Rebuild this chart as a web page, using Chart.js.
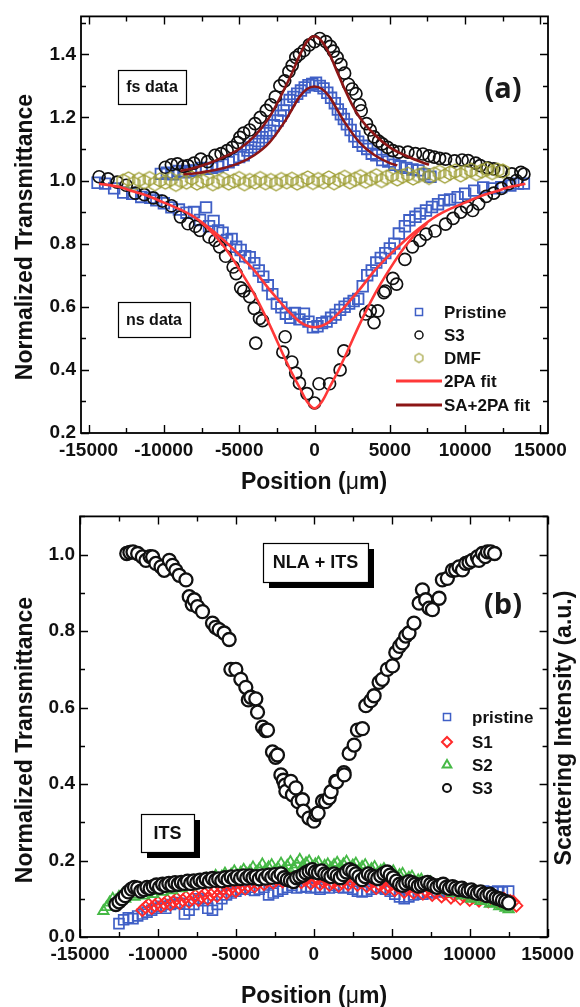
<!DOCTYPE html>
<html>
<head>
<meta charset="utf-8">
<title>Z-scan transmittance and scattering</title>
<script src="https://cdn.jsdelivr.net/npm/chart.js@4.4.1/dist/chart.umd.min.js"></script>
<style>
  html, body { margin: 0; padding: 0; background: #fff; }
  canvas { display: block; }
</style>
</head>
<body>
<canvas id="chartA" width="580" height="500"></canvas>
<canvas id="chartB" width="580" height="507"></canvas>
<script>
// ---------- panel (a): open-aperture Z-scan, ns and fs data ----------
const xTicksA = [-15000, -10000, -5000, 0, 5000, 10000, 15000];
const yTicksA = [0.2, 0.4, 0.6, 0.8, 1.0, 1.2, 1.4];

// ns data (valley)
const pristineNs = [[-14400,0.993],[-13900,0.99],[-13300,0.975],[-12700,0.962],[-12100,0.958],[-11500,0.948],[-10900,0.945],[-10500,0.937],[-10000,0.928],[-9500,0.915],[-9000,0.908],[-8500,0.898],[-8000,0.9],[-7600,0.875],[-7200,0.915],[-7000,0.855],[-6700,0.872],[-6400,0.842],[-6100,0.835],[-5800,0.812],[-5500,0.815],[-5200,0.79],[-4900,0.78],[-4600,0.76],[-4300,0.757],[-4000,0.738],[-3700,0.715],[-3400,0.695],[-3100,0.668],[-2800,0.64],[-2500,0.61],[-2200,0.598],[-1900,0.578],[-1600,0.565],[-1300,0.58],[-1000,0.56],[-700,0.578],[-400,0.553],[-100,0.535],[200,0.538],[500,0.548],[800,0.553],[1100,0.565],[1400,0.575],[1700,0.59],[2000,0.6],[2300,0.61],[2600,0.618],[2900,0.625],[3200,0.665],[3500,0.7],[3800,0.715],[4100,0.74],[4400,0.755],[4700,0.77],[5000,0.785],[5300,0.8],[5600,0.832],[6000,0.855],[6300,0.874],[6700,0.885],[7000,0.895],[7400,0.905],[7800,0.916],[8200,0.925],[8600,0.937],[9000,0.94],[9500,0.947],[10000,0.958],[10600,0.968],[11200,0.978],[11800,0.975],[12400,0.979],[13000,0.984],[13500,0.99],[13900,0.99]];
const s3Ns = [[-14300,1.012],[-13700,1.005],[-13100,0.995],[-12500,0.985],[-11900,0.96],[-11300,0.955],[-10700,0.945],[-10100,0.935],[-9500,0.92],[-8900,0.885],[-8400,0.863],[-7900,0.855],[-7600,0.842],[-7000,0.821],[-6600,0.81],[-6300,0.79],[-5900,0.76],[-5400,0.726],[-5200,0.705],[-4900,0.66],[-4700,0.65],[-4300,0.632],[-4000,0.595],[-3900,0.485],[-3650,0.563],[-3450,0.556],[-2100,0.456],[-1950,0.505],[-1500,0.425],[-1250,0.39],[-1000,0.358],[-500,0.325],[0,0.295],[300,0.356],[1000,0.356],[1700,0.4],[1950,0.46],[3400,0.577],[3700,0.587],[3950,0.55],[4200,0.587],[4600,0.645],[4700,0.65],[5200,0.69],[5450,0.672],[6000,0.75],[6500,0.79],[7000,0.81],[7400,0.83],[8000,0.84],[8700,0.862],[9200,0.88],[9700,0.9],[10100,0.916],[10500,0.905],[10900,0.926],[11400,0.95],[11900,0.96],[12400,0.975],[12900,0.99],[13400,1.0],[13900,1.02]];

// fs data (peak)
const pristineFs = [[-10200,1.021],[-9800,1.025],[-9400,1.02],[-9000,1.03],[-8600,1.026],[-8200,1.03],[-7900,1.032],[-7500,1.04],[-7200,1.037],[-6800,1.04],[-6400,1.044],[-6100,1.05],[-5700,1.058],[-5400,1.066],[-5000,1.074],[-4700,1.08],[-4450,1.095],[-4200,1.105],[-3950,1.116],[-3700,1.125],[-3450,1.137],[-3200,1.15],[-2950,1.158],[-2700,1.175],[-2450,1.19],[-2250,1.205],[-2050,1.222],[-1850,1.24],[-1650,1.255],[-1400,1.265],[-1150,1.275],[-900,1.285],[-650,1.295],[-400,1.302],[-150,1.306],[100,1.31],[350,1.3],[600,1.292],[850,1.278],[1100,1.262],[1350,1.245],[1550,1.225],[1750,1.21],[1950,1.195],[2150,1.178],[2400,1.16],[2650,1.14],[2900,1.123],[3200,1.11],[3500,1.1],[3800,1.085],[4100,1.08],[4500,1.065],[4900,1.06],[5300,1.05],[5700,1.045],[6100,1.04],[6500,1.035],[6900,1.032],[7300,1.02],[7700,1.012]];
const s3Fs = [[-9900,1.042],[-9500,1.05],[-9100,1.053],[-8700,1.045],[-8400,1.047],[-8000,1.055],[-7550,1.068],[-7100,1.06],[-6600,1.08],[-6200,1.085],[-5800,1.095],[-5450,1.105],[-5100,1.12],[-4950,1.137],[-4700,1.15],[-4300,1.16],[-3950,1.18],[-3600,1.2],[-3200,1.222],[-2900,1.24],[-2600,1.265],[-2300,1.3],[-1980,1.316],[-1700,1.345],[-1480,1.365],[-1240,1.39],[-1000,1.4],[-700,1.412],[-350,1.43],[0,1.44],[350,1.45],[750,1.44],[1050,1.425],[1250,1.41],[1500,1.39],[1750,1.368],[2000,1.34],[2250,1.305],[2500,1.29],[2750,1.275],[3000,1.24],[3100,1.221],[3450,1.18],[3700,1.16],[3950,1.138],[4250,1.125],[4500,1.116],[4850,1.105],[5200,1.095],[5600,1.09],[6200,1.09],[6700,1.085],[7200,1.084],[7600,1.078],[7950,1.074],[8300,1.07],[8700,1.068],[9300,1.062],[9800,1.065],[10200,1.063],[10700,1.055],[11000,1.047],[11500,1.04],[11900,1.037],[12400,1.03],[13100,1.021],[13700,1.026]];

// solvent reference
const dmf = [[-12700,0.998],[-12350,1.005],[-12000,0.99],[-11650,1.003],[-11300,0.996],[-10950,1.006],[-10600,0.99],[-10250,1.002],[-9900,0.995],[-9550,1.004],[-9200,0.988],[-8850,1.0],[-8500,0.995],[-8150,1.008],[-7800,0.992],[-7450,0.998],[-7100,1.005],[-6750,0.99],[-6400,0.997],[-6050,1.004],[-5700,0.992],[-5350,0.999],[-5000,1.006],[-4650,0.99],[-4300,1.0],[-3950,0.995],[-3600,1.006],[-3250,0.993],[-2900,1.0],[-2550,0.99],[-2200,1.003],[-1850,0.996],[-1500,1.004],[-1150,0.992],[-800,1.0],[-450,1.008],[-100,0.994],[250,1.003],[600,0.996],[950,1.008],[1300,0.993],[1650,1.002],[2000,1.01],[2350,0.996],[2700,1.004],[3050,1.012],[3400,0.998],[3750,1.006],[4100,1.015],[4450,1.0],[4800,1.01],[5150,1.018],[5500,1.005],[5850,1.014],[6200,1.02],[6550,1.008],[6900,1.016],[7250,1.022],[7600,1.01],[7950,1.02],[8300,1.026],[8650,1.014],[9000,1.024],[9350,1.03],[9700,1.018],[10050,1.028],[10400,1.033],[10750,1.022],[11100,1.03],[11450,1.036],[11800,1.025],[12150,1.033],[12500,1.03]];

// fitted curves
const fit2paPristine = [[-14300,0.99],[-13000,0.98],[-12000,0.965],[-11000,0.95],[-10000,0.93],[-9000,0.91],[-8000,0.885],[-7000,0.85],[-6000,0.81],[-5000,0.765],[-4000,0.715],[-3000,0.655],[-2000,0.6],[-1500,0.575],[-1000,0.553],[-500,0.54],[0,0.535],[500,0.54],[1000,0.553],[1500,0.575],[2000,0.6],[3000,0.655],[4000,0.715],[5000,0.765],[6000,0.81],[7000,0.85],[8000,0.885],[9000,0.91],[10000,0.93],[11000,0.95],[12000,0.965],[13000,0.98],[14000,0.99]];
const fit2paS3 = [[-7600,0.87],[-7000,0.845],[-6000,0.79],[-5000,0.72],[-4000,0.64],[-3000,0.545],[-2000,0.44],[-1500,0.39],[-1000,0.345],[-500,0.3],[0,0.278],[500,0.3],[1000,0.345],[1500,0.39],[2000,0.44],[3000,0.545],[4000,0.64],[5000,0.72],[6000,0.79],[7000,0.845],[7500,0.865]];
const fitSaPristine = [[-8700,1.02],[-8000,1.022],[-7000,1.03],[-6000,1.04],[-5000,1.055],[-4000,1.08],[-3000,1.12],[-2000,1.185],[-1500,1.225],[-1000,1.265],[-500,1.29],[0,1.298],[500,1.29],[1000,1.265],[1500,1.225],[2000,1.185],[3000,1.12],[4000,1.08],[5000,1.055],[5500,1.048]];
const fitSaS3 = [[-8900,1.03],[-8000,1.04],[-7000,1.055],[-6000,1.075],[-5000,1.1],[-4000,1.14],[-3000,1.2],[-2000,1.29],[-1500,1.34],[-1000,1.395],[-500,1.44],[0,1.457],[500,1.44],[1000,1.4],[1500,1.345],[2000,1.29],[2500,1.24],[3000,1.2],[4000,1.145],[5000,1.105],[6000,1.08],[7000,1.06],[7600,1.05]];

// ---------- panel (b): nonlinear absorption + induced thermal scattering ----------
const xTicksB = [-15000, -10000, -5000, 0, 5000, 10000, 15000];
const yTicksB = [0.0, 0.2, 0.4, 0.6, 0.8, 1.0];

const s3Nla = [[-12000,1.003],[-11800,1.006],[-11600,1.007],[-11300,1.003],[-11000,0.994],[-10770,0.985],[-10500,0.995],[-10340,0.994],[-10130,0.977],[-9800,0.968],[-9600,0.959],[-9270,0.985],[-9060,0.972],[-8850,0.959],[-8630,0.946],[-8200,0.934],[-7990,0.89],[-7800,0.87],[-7670,0.882],[-7460,0.864],[-7140,0.851],[-6500,0.821],[-6300,0.81],[-6070,0.804],[-5750,0.795],[-5430,0.778],[-5320,0.7],[-5000,0.7],[-4680,0.674],[-4360,0.653],[-4200,0.62],[-4040,0.627],[-3720,0.623],[-3610,0.588],[-3290,0.549],[-3100,0.54],[-2970,0.541],[-2650,0.484],[-2450,0.47],[-2330,0.476],[-2110,0.424],[-1950,0.41],[-1840,0.397],[-1790,0.381],[-1470,0.407],[-1370,0.372],[-1150,0.39],[-1010,0.354],[-730,0.359],[-660,0.329],[-310,0.311],[0,0.303],[150,0.32],[280,0.324],[560,0.355],[760,0.354],[990,0.364],[1110,0.38],[1410,0.407],[1460,0.406],[1930,0.43],[1950,0.424],[2270,0.48],[2590,0.502],[2800,0.541],[3120,0.545],[3340,0.605],[3660,0.618],[3870,0.631],[4190,0.666],[4400,0.674],[4720,0.7],[5050,0.709],[5260,0.744],[5500,0.76],[5690,0.769],[5900,0.787],[6110,0.795],[6430,0.821],[6760,0.873],[6970,0.908],[7180,0.882],[7400,0.86],[7610,0.856],[8040,0.886],[8250,0.934],[8570,0.938],[8890,0.959],[9100,0.96],[9320,0.968],[9540,0.96],[9750,0.977],[9960,0.98],[10170,0.985],[10500,0.994],[10600,0.985],[10820,1.003],[11000,0.995],[11140,1.007],[11350,1.007],[11600,1.003]];

const s3Its = [[-12700,0.085],[-12500,0.092],[-12300,0.1],[-12100,0.108],[-11900,0.118],[-11700,0.125],[-11500,0.13],[-11300,0.128],[-11100,0.12],[-10900,0.124],[-10700,0.13],[-10500,0.127],[-10300,0.132],[-10100,0.136],[-9900,0.13],[-9700,0.138],[-9500,0.135],[-9300,0.14],[-9100,0.136],[-8900,0.142],[-8700,0.138],[-8500,0.143],[-8300,0.14],[-8100,0.146],[-7900,0.14],[-7700,0.147],[-7500,0.143],[-7300,0.149],[-7100,0.145],[-6900,0.151],[-6700,0.146],[-6500,0.153],[-6300,0.148],[-6100,0.152],[-5900,0.147],[-5700,0.155],[-5500,0.15],[-5300,0.157],[-5100,0.152],[-4900,0.158],[-4700,0.153],[-4500,0.16],[-4300,0.154],[-4100,0.16],[-3900,0.155],[-3700,0.158],[-3500,0.152],[-3300,0.16],[-3100,0.154],[-2900,0.162],[-2700,0.156],[-2500,0.163],[-2300,0.158],[-2100,0.165],[-1900,0.155],[-1700,0.15],[-1500,0.148],[-1300,0.145],[-1100,0.155],[-900,0.158],[-700,0.162],[-500,0.168],[-300,0.172],[-100,0.176],[100,0.17],[300,0.168],[500,0.173],[700,0.165],[900,0.162],[1100,0.158],[1300,0.165],[1500,0.16],[1700,0.155],[1900,0.163],[2100,0.17],[2300,0.176],[2500,0.172],[2700,0.165],[2900,0.158],[3100,0.15],[3300,0.158],[3500,0.165],[3700,0.16],[3900,0.157],[4100,0.153],[4300,0.16],[4500,0.166],[4700,0.17],[4900,0.162],[5100,0.155],[5300,0.146],[5500,0.138],[5700,0.135],[5900,0.14],[6100,0.145],[6300,0.142],[6500,0.138],[6700,0.133],[6900,0.136],[7100,0.14],[7300,0.143],[7500,0.138],[7700,0.134],[7900,0.13],[8100,0.135],[8300,0.138],[8500,0.13],[8700,0.127],[8900,0.132],[9100,0.128],[9300,0.124],[9500,0.128],[9700,0.122],[9900,0.12],[10100,0.123],[10300,0.117],[10500,0.114],[10700,0.118],[10900,0.112],[11100,0.108],[11300,0.112],[11500,0.106],[11700,0.102],[11900,0.1],[12100,0.096],[12300,0.093],[12500,0.089]];

const s2Its = [[-13500,0.068],[-13300,0.078],[-13100,0.09],[-12900,0.1],[-12700,0.095],[-12500,0.105],[-12300,0.11],[-12100,0.1],[-11900,0.112],[-11700,0.12],[-11500,0.105],[-11300,0.11],[-11100,0.118],[-10900,0.108],[-10700,0.115],[-10500,0.122],[-10300,0.112],[-10100,0.12],[-9900,0.127],[-9700,0.118],[-9500,0.125],[-9300,0.132],[-9100,0.122],[-8900,0.13],[-8700,0.136],[-8500,0.127],[-8300,0.134],[-8100,0.142],[-7900,0.132],[-7700,0.14],[-7500,0.147],[-7300,0.138],[-7100,0.145],[-6900,0.152],[-6700,0.143],[-6500,0.15],[-6300,0.16],[-6100,0.15],[-5900,0.158],[-5700,0.166],[-5500,0.155],[-5300,0.163],[-5100,0.172],[-4900,0.16],[-4700,0.168],[-4500,0.176],[-4300,0.165],[-4100,0.172],[-3900,0.182],[-3700,0.17],[-3500,0.178],[-3300,0.19],[-3100,0.175],[-2900,0.182],[-2700,0.188],[-2500,0.173],[-2300,0.18],[-2100,0.192],[-1900,0.178],[-1700,0.186],[-1500,0.196],[-1300,0.18],[-1100,0.19],[-900,0.202],[-700,0.186],[-500,0.193],[-300,0.198],[-100,0.183],[100,0.19],[300,0.195],[500,0.178],[700,0.186],[900,0.19],[1100,0.18],[1300,0.188],[1500,0.194],[1700,0.182],[1900,0.19],[2100,0.197],[2300,0.18],[2500,0.187],[2700,0.192],[2900,0.176],[3100,0.183],[3300,0.188],[3500,0.171],[3700,0.178],[3900,0.183],[4100,0.167],[4300,0.173],[4500,0.178],[4700,0.162],[4900,0.168],[5100,0.172],[5300,0.155],[5500,0.162],[5700,0.165],[5900,0.148],[6100,0.155],[6300,0.158],[6500,0.141],[6700,0.148],[6900,0.15],[7100,0.135],[7300,0.141],[7500,0.143],[7700,0.128],[7900,0.134],[8100,0.136],[8300,0.122],[8500,0.128],[8700,0.129],[8900,0.115],[9100,0.12],[9300,0.122],[9500,0.108],[9700,0.113],[9900,0.114],[10100,0.1],[10300,0.105],[10500,0.106],[10700,0.094],[10900,0.098],[11100,0.098],[11300,0.087],[11500,0.09],[11700,0.088],[11900,0.08],[12100,0.082],[12300,0.076],[12500,0.072]];

const s1Its = [[-11000,0.07],[-10800,0.078],[-10600,0.085],[-10400,0.075],[-10200,0.082],[-10000,0.09],[-9800,0.08],[-9600,0.087],[-9400,0.095],[-9200,0.085],[-9000,0.092],[-8800,0.1],[-8600,0.088],[-8400,0.096],[-8200,0.104],[-8000,0.092],[-7800,0.1],[-7600,0.108],[-7400,0.097],[-7200,0.105],[-7000,0.113],[-6800,0.1],[-6600,0.11],[-6400,0.118],[-6200,0.107],[-6000,0.117],[-5800,0.126],[-5600,0.115],[-5400,0.123],[-5200,0.132],[-5000,0.12],[-4800,0.128],[-4600,0.136],[-4400,0.126],[-4200,0.134],[-4000,0.142],[-3800,0.132],[-3600,0.14],[-3400,0.15],[-3200,0.138],[-3000,0.146],[-2800,0.153],[-2600,0.142],[-2400,0.15],[-2200,0.156],[-2000,0.145],[-1800,0.152],[-1600,0.158],[-1400,0.146],[-1200,0.152],[-1000,0.156],[-800,0.143],[-600,0.15],[-400,0.154],[-200,0.14],[0,0.147],[200,0.152],[400,0.138],[600,0.145],[800,0.15],[1000,0.136],[1200,0.143],[1400,0.148],[1600,0.134],[1800,0.142],[2000,0.15],[2200,0.137],[2400,0.145],[2600,0.152],[2800,0.136],[3000,0.144],[3200,0.149],[3400,0.133],[3600,0.14],[3800,0.146],[4000,0.128],[4200,0.136],[4400,0.142],[4600,0.126],[4800,0.133],[5000,0.138],[5200,0.122],[5400,0.13],[5600,0.135],[5800,0.118],[6000,0.126],[6200,0.132],[6400,0.116],[6600,0.124],[6800,0.13],[7000,0.113],[7200,0.12],[7400,0.127],[7600,0.11],[7800,0.117],[8000,0.124],[8200,0.106],[8400,0.113],[8600,0.12],[8800,0.103],[9000,0.11],[9200,0.116],[9400,0.1],[9600,0.107],[9800,0.113],[10000,0.097],[10200,0.104],[10400,0.11],[10600,0.095],[10800,0.102],[11000,0.107],[11200,0.093],[11400,0.1],[11600,0.105],[11800,0.09],[12000,0.097],[12200,0.1],[12400,0.088],[12600,0.094],[12800,0.092],[13000,0.082]];

const pristineIts = [[-12500,0.035],[-12200,0.045],[-11900,0.05],[-11600,0.048],[-11300,0.055],[-11000,0.06],[-10700,0.065],[-10400,0.07],[-10100,0.075],[-9800,0.08],[-9500,0.075],[-9200,0.085],[-8900,0.09],[-8600,0.088],[-8300,0.06],[-8000,0.07],[-7700,0.085],[-7400,0.1],[-7100,0.095],[-6800,0.075],[-6500,0.07],[-6200,0.085],[-5900,0.1],[-5600,0.11],[-5300,0.115],[-5000,0.12],[-4700,0.125],[-4400,0.125],[-4100,0.13],[-3800,0.122],[-3500,0.125],[-3200,0.13],[-2900,0.11],[-2600,0.115],[-2300,0.12],[-2000,0.125],[-1700,0.13],[-1400,0.135],[-1100,0.128],[-800,0.13],[-500,0.132],[-200,0.128],[100,0.13],[400,0.125],[700,0.13],[1000,0.128],[1300,0.135],[1600,0.13],[1900,0.128],[2200,0.13],[2500,0.125],[2800,0.12],[3100,0.118],[3400,0.12],[3700,0.125],[4000,0.13],[4300,0.128],[4600,0.125],[4900,0.12],[5200,0.112],[5500,0.105],[5800,0.1],[6100,0.105],[6400,0.11],[6700,0.115],[7000,0.112],[7300,0.118],[7600,0.115],[7900,0.12],[8200,0.118],[8500,0.122],[8800,0.118],[9100,0.12],[9400,0.115],[9700,0.118],[10000,0.12],[10300,0.115],[10600,0.118],[10900,0.12],[11200,0.115],[11500,0.118],[11800,0.12],[12100,0.118],[12500,0.12]];

// ---------- styling ----------
const FONT = "'Liberation Sans', Arial, Helvetica, sans-serif";
const BLUE = '#3f5fc6';
const RED_FIT = '#ff3838';
const DARK_RED = '#8c1616';
const OLIVE = '#a0a038';
const RED = '#ff2a2a';
const GREEN = '#46b946';

function hexagonSprite(r, color, lw) {
  const size = Math.ceil(2 * r + lw + 2);
  const c = document.createElement('canvas');
  c.width = size; c.height = size;
  const g = c.getContext('2d');
  g.strokeStyle = color; g.lineWidth = lw;
  g.beginPath();
  for (let i = 0; i < 6; i++) {
    const a = -Math.PI / 2 + i * Math.PI / 3;
    const px = size / 2 + r * Math.cos(a), py = size / 2 + r * Math.sin(a);
    if (i === 0) g.moveTo(px, py); else g.lineTo(px, py);
  }
  g.closePath(); g.stroke();
  return c;
}
const hexBig = hexagonSprite(7, OLIVE, 1.4);
const hexSmall = hexagonSprite(4.5, OLIVE, 1.2);

function markers(data, style, radius, color, lw, fill, order) {
  return { data, showLine: false, pointStyle: style, pointRadius: radius, pointHoverRadius: radius,
           pointBorderColor: color, pointBorderWidth: lw, pointBackgroundColor: fill || 'rgba(0,0,0,0)', order };
}
function curve(data, color, lw, order) {
  return { data, showLine: true, pointRadius: 0, borderColor: color, borderWidth: lw,
           cubicInterpolationMode: 'monotone', fill: false, order };
}

// "Position (µm)" with a light-weight mu, centred on (cx, cy)
function positionTitle(ctx, cx, cy) {
  const parts = [['Position (', 'bold 23px '], ['\u03bc', '23px '], ['m)', 'bold 23px ']];
  let total = 0;
  for (const p of parts) { ctx.font = p[1] + FONT; total += ctx.measureText(p[0]).width; }
  let x = cx - total / 2;
  ctx.textAlign = 'left';
  for (const p of parts) {
    ctx.font = p[1] + FONT;
    ctx.fillText(p[0], x, cy);
    x += ctx.measureText(p[0]).width;
  }
  ctx.textAlign = 'center';
}

// inward ticks, frame, titles and text for one panel
function decor(cfg) {
  return {
    id: 'decor',
    afterDraw(chart) {
      const ctx = chart.ctx, a = chart.chartArea;
      const xs = chart.scales.x, ys = chart.scales.y;
      ctx.save();
      ctx.strokeStyle = '#000';
      ctx.lineWidth = 1.4;
      ctx.beginPath();
      for (let v = Math.ceil(xs.min / 2500) * 2500; v <= xs.max; v += 2500) {
        const px = Math.round(xs.getPixelForValue(v)) + 0.5;
        const len = (Math.abs(v % 5000) < 1) ? 8 : 5;
        ctx.moveTo(px, a.bottom); ctx.lineTo(px, a.bottom - len);
        ctx.moveTo(px, a.top); ctx.lineTo(px, a.top + len);
      }
      for (let k = Math.ceil(ys.min * 10 - 1e-6); k <= Math.floor(ys.max * 10 + 1e-6); k++) {
        const py = Math.round(ys.getPixelForValue(k / 10)) + 0.5;
        const len = (k % 2 === 0) ? 8 : 5;
        ctx.moveTo(a.left, py); ctx.lineTo(a.left + len, py);
        ctx.moveTo(a.right, py); ctx.lineTo(a.right - len, py);
      }
      ctx.stroke();
      ctx.lineWidth = 1.8;
      ctx.strokeRect(a.left, a.top, a.right - a.left, a.bottom - a.top);

      // axis titles
      ctx.fillStyle = '#111';
      ctx.textAlign = 'center'; ctx.textBaseline = 'middle';
      positionTitle(ctx, cfg.xTitle[0], cfg.xTitle[1]);
      ctx.font = 'bold 23px ' + FONT;
      ctx.save();
      ctx.translate(cfg.yTitle[0], cfg.yTitle[1]); ctx.rotate(-Math.PI / 2);
      ctx.fillText('Normalized Transmittance', 0, 0);
      ctx.restore();
      if (cfg.rightTitle) {
        ctx.save();
        ctx.translate(cfg.rightTitle[0], cfg.rightTitle[1]); ctx.rotate(-Math.PI / 2);
        ctx.fillText(cfg.rightTitle[2], 0, 0);
        ctx.restore();
      }

      // framed text boxes
      for (const b of cfg.boxes) {
        if (b.shadow) { ctx.fillStyle = '#000'; ctx.fillRect(b.x + b.shadow, b.y + b.shadow, b.w, b.h); }
        ctx.fillStyle = '#fff'; ctx.fillRect(b.x, b.y, b.w, b.h);
        ctx.lineWidth = 1.2; ctx.strokeStyle = '#000';
        ctx.strokeRect(b.x + 0.5, b.y + 0.5, b.w, b.h);
        ctx.fillStyle = '#111';
        ctx.font = 'bold ' + b.size + 'px ' + FONT;
        ctx.fillText(b.text, b.x + b.w / 2, b.y + b.h / 2 + 1);
      }

      // panel letter
      ctx.fillStyle = '#1a1a1a';
      ctx.font = 'bold 29px "Open Sans", ' + FONT;
      ctx.fillText(cfg.letter[0], cfg.letter[1], cfg.letter[2]);

      // legend
      ctx.font = 'bold 17px ' + FONT;
      ctx.textAlign = 'left';
      cfg.legend.forEach((e, i) => {
        const y = cfg.legendY[i];
        if (e.line) {
          ctx.strokeStyle = e.color; ctx.lineWidth = 3;
          ctx.beginPath(); ctx.moveTo(cfg.lineX[0], y); ctx.lineTo(cfg.lineX[1], y); ctx.stroke();
        } else {
          ctx.strokeStyle = e.color; ctx.fillStyle = 'rgba(0,0,0,0)'; ctx.lineWidth = e.lw || 1.5;
          Chart.helpers.drawPoint(ctx, { pointStyle: e.style, radius: e.r, borderWidth: e.lw || 1.5, rotation: 0 }, cfg.markX, y);
        }
        ctx.fillStyle = '#111';
        ctx.fillText(e.label, cfg.textX, y + 1);
      });
      ctx.restore();
    }
  };
}

function axes(xMin, xMax, yMin, yMax, xTicks, yTicks, yWidth, xHeight) {
  const tickFont = { family: FONT, size: 19, weight: 'bold' };
  return {
    x: { type: 'linear', min: xMin, max: xMax,
         afterBuildTicks: s => { s.ticks = xTicks.map(v => ({ value: v })); },
         afterFit: s => { s.height = xHeight; },
         grid: { display: false, drawTicks: false }, border: { display: false },
         ticks: { font: tickFont, color: '#111', padding: 6, maxRotation: 0, autoSkip: false,
                  callback: v => String(v) } },
    y: { type: 'linear', min: yMin, max: yMax,
         afterBuildTicks: s => { s.ticks = yTicks.map(v => ({ value: v })); },
         afterFit: s => { s.width = yWidth; },
         grid: { display: false, drawTicks: false }, border: { display: false },
         ticks: { font: tickFont, color: '#111', padding: 5, autoSkip: false,
                  callback: v => Number(v).toFixed(1) } }
  };
}

const common = { responsive: false, animation: false, devicePixelRatio: 1, events: [],
                 plugins: { legend: { display: false }, tooltip: { enabled: false } } };

// panel (a)
new Chart(document.getElementById('chartA'), {
  type: 'scatter',
  data: { datasets: [
    curve(fitSaS3, DARK_RED, 2.6, 0),
    curve(fitSaPristine, DARK_RED, 2.6, 0),
    curve(fit2paS3, RED_FIT, 2.6, 1),
    curve(fit2paPristine, RED_FIT, 2.6, 1),
    markers(dmf, hexBig, 7, OLIVE, 1.4, null, 2),
    markers(s3Fs, 'circle', 6, '#111', 1.7, null, 3),
    markers(s3Ns, 'circle', 6, '#111', 1.7, null, 3),
    markers(pristineFs, 'rect', 7.5, BLUE, 1.8, null, 4),
    markers(pristineNs, 'rect', 7.5, BLUE, 1.8, null, 4)
  ] },
  options: Object.assign({}, common, {
    layout: { padding: { top: 16, right: 32, left: 0, bottom: 0 } },
    scales: axes(-15500, 15500, 0.2, 1.52, xTicksA, yTicksA, 81, 67)
  }),
  plugins: [decor({
    xTitle: [314, 483], yTitle: [26, 237],
    boxes: [
      { text: 'fs data', x: 118, y: 70, w: 68, h: 34, size: 16 },
      { text: 'ns data', x: 118, y: 302, w: 72, h: 35, size: 16 }
    ],
    letter: ['(a)', 503, 90],
    legend: [
      { label: 'Pristine', style: 'rect', r: 5, color: BLUE },
      { label: 'S3', style: 'circle', r: 4, color: '#111' },
      { label: 'DMF', style: hexSmall, r: 5, color: OLIVE },
      { label: '2PA fit', line: true, color: RED_FIT },
      { label: 'SA+2PA fit', line: true, color: DARK_RED }
    ],
    legendY: [312, 335, 358, 381, 405], markX: 419, textX: 444, lineX: [396, 442]
  })]
});

// panel (b)
new Chart(document.getElementById('chartB'), {
  type: 'scatter',
  data: { datasets: [
    markers(s3Nla, 'circle', 6.5, '#111', 2.3, '#fff', 0),
    markers(s3Its, 'circle', 6.5, '#111', 2.3, '#fff', 0),
    markers(s2Its, 'triangle', 6, GREEN, 1.8, null, 1),
    markers(s1Its, 'rectRot', 6, RED, 1.8, null, 2),
    markers(pristineIts, 'rect', 7, BLUE, 1.7, null, 3)
  ] },
  options: Object.assign({}, common, {
    layout: { padding: { top: 13, right: 32, left: 0, bottom: 0 } },
    scales: axes(-15000, 15000, 0, 1.1, xTicksB, yTicksB, 80, 70)
  }),
  plugins: [decor({
    xTitle: [314, 497], yTitle: [26, 240],
    rightTitle: [565, 228, 'Scattering Intensity (a.u.)'],
    boxes: [
      { text: 'NLA + ITS', x: 263, y: 43, w: 105, h: 39, size: 18, shadow: 6 },
      { text: 'ITS', x: 141, y: 314, w: 53, h: 38, size: 18, shadow: 6 }
    ],
    letter: ['(b)', 503, 106],
    legend: [
      { label: 'pristine', style: 'rect', r: 5, color: BLUE },
      { label: 'S1', style: 'rectRot', r: 5, color: RED, lw: 2 },
      { label: 'S2', style: 'triangle', r: 5, color: GREEN, lw: 2 },
      { label: 'S3', style: 'circle', r: 4, color: '#111', lw: 2 }
    ],
    legendY: [217, 242, 265, 288], markX: 447, textX: 472, lineX: [0, 0]
  })]
});
</script>
</body>
</html>
